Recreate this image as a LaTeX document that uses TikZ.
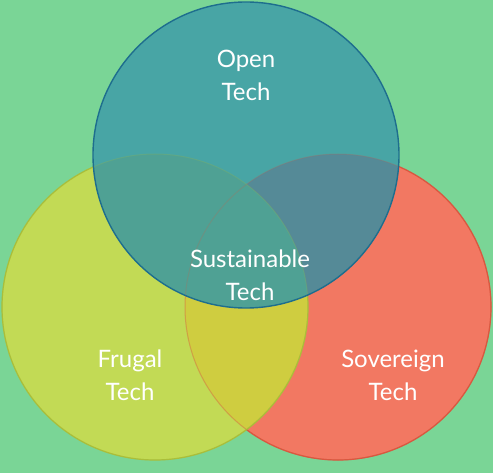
\documentclass[tikz,border=0pt]{standalone}
\usepackage{fontspec}
\setmainfont{Lato}
\definecolor{bggreen}{RGB}{122, 213, 150}
\definecolor{opentech}{RGB}{72, 165, 165}
\definecolor{frugaltech}{RGB}{194, 218, 85}
\definecolor{sovtech}{RGB}{242, 120, 98}
\definecolor{openfrugal}{RGB}{79, 161, 148}
\definecolor{opensov}{RGB}{85, 138, 151}
\definecolor{frugalsov}{RGB}{207, 205, 64}
\definecolor{openedge}{RGB}{30, 110, 142}
\definecolor{frugaledge}{RGB}{170, 190, 58}
\definecolor{sovedge}{RGB}{217, 88, 64}
\usepackage{tikz}

\begin{document}
\begin{tikzpicture}[x=1pt, y=-1pt,
    techlabel/.style={text=white, align=center, font=\fontsize{24}{33}\selectfont}]
        \fill[bggreen] (0,0) rectangle (493,473);
        \useasboundingbox (0,0) rectangle (493,473);

        \coordinate (open) at (246,155);
        \coordinate (frugal) at (155,307);
        \coordinate (sov) at (338,307);

        % red and yellow discs
        \fill[sovtech] (sov) circle[radius=153pt];
        \draw[sovedge, line width=1.2pt] (sov) circle[radius=153pt];
        \fill[frugaltech] (frugal) circle[radius=153pt];
        \begin{scope}
          \clip (frugal) circle[radius=153pt];
          \fill[frugalsov] (sov) circle[radius=153pt];
        \end{scope}
        \draw[sovedge, line width=1pt, draw opacity=0.25] (sov) circle[radius=153pt];
        \draw[frugaledge, line width=1.2pt] (frugal) circle[radius=153pt];

        % teal disc on top
        \fill[opentech] (open) circle[radius=153pt];
        \begin{scope}
          \clip (open) circle[radius=153pt];
          \fill[opensov] (sov) circle[radius=153pt];
          \fill[openfrugal] (frugal) circle[radius=153pt];
        \end{scope}
        \draw[sovedge, line width=1pt, draw opacity=0.2] (sov) circle[radius=153pt];
        \draw[frugaledge, line width=1pt, draw opacity=0.2] (frugal) circle[radius=153pt];
        \draw[openedge, line width=1.4pt] (open) circle[radius=153pt];

        \node[techlabel] (openlbl) at (246,75) {Open\\Tech};
        \node[techlabel] (sustlbl) at (250,275) {Sustainable\\Tech};
        \node[techlabel] (frugallbl) at (130,375) {Frugal\\Tech};
        \node[techlabel] (sovlbl) at (393,375) {Sovereign\\Tech};
      \end{tikzpicture}
\end{document}
